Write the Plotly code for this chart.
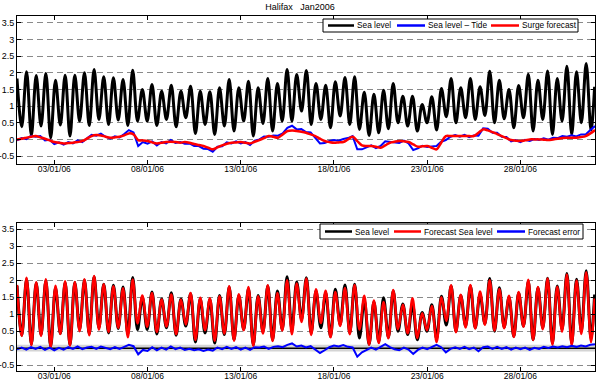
import numpy as np
import pandas as pd
import plotly.graph_objects as go

# ---------------- data ----------------
start = pd.Timestamp("2006-01-01 00:00")
end = pd.Timestamp("2006-02-01 00:00")

# Sea level (m): value at start, successive low waters, successive high waters, value at end
sea_first = 1.83
sea_lows = [0.38, 0.12, 0.40, 0.05, 0.43, 0.10, 0.55, 0.42, 0.60, 0.45,
            0.58, 0.42, 0.55, 0.55, 0.42, 0.60, 0.38, 0.65, 0.18, 0.45,
            0.15, 0.40, 0.25, 0.55, 0.10, 0.48, 0.25, 0.55, 0.55, 0.85,
            0.45, 0.60, 0.35, 0.70, 0.45, 0.30, 0.12, 0.20, 0.32, 0.50,
            0.40, 0.25, 0.50, 0.28, 0.68, 0.50, 0.65, 0.60, 0.72, 0.50,
            0.62, 0.35, 0.65, 0.25, 0.60, 0.15, 0.55, 0.15, 0.50, 0.28]
sea_highs = [2.03, 1.92, 1.98, 1.78, 1.93, 1.93, 2.00, 2.10, 1.88, 1.85,
             1.80, 2.08, 1.50, 1.65, 1.45, 1.63, 1.45, 1.60, 1.45, 1.43,
             1.55, 1.80, 1.55, 1.75, 1.55, 1.83, 1.68, 2.10, 1.95, 2.07,
             1.68, 1.63, 1.73, 1.86, 1.88, 1.42, 1.36, 1.48, 1.68, 1.30,
             1.30, 1.05, 1.28, 1.53, 1.83, 1.55, 1.83, 1.58, 2.05, 1.78,
             1.50, 1.62, 1.96, 1.78, 2.06, 1.83, 2.20, 2.03, 2.28]
sea_last = 1.58

# Surge forecast (m), every 6 hours from 01/01 00:00 to 01/02 00:00
surge = [0.00, 0.02, 0.05, 0.08, 0.10, 0.06, 0.02, -0.03,
         -0.08, -0.10, -0.12, -0.11, -0.10, -0.08, -0.05, 0.02,
         0.10, 0.13, 0.12, 0.08, 0.05, 0.06, 0.08, 0.12,
         0.18, 0.15, -0.02, -0.03, -0.05, -0.09, -0.12, -0.10,
         -0.08, -0.07, -0.08, -0.10, -0.08, -0.10, -0.14, -0.17,
         -0.20, -0.25, -0.30, -0.24, -0.18, -0.13, -0.10, -0.09,
         -0.08, -0.10, -0.12, -0.07, -0.02, 0.04, 0.10, 0.08,
         0.05, 0.15, 0.25, 0.27, 0.25, 0.23, 0.20, 0.15,
         0.10, 0.02, -0.05, -0.08, -0.10, -0.09, -0.08, 0.00,
         0.08, -0.05, -0.18, -0.20, -0.20, -0.22, -0.25, -0.18,
         -0.10, -0.07, -0.05, -0.06, -0.08, -0.15, -0.22, -0.21,
         -0.20, -0.25, -0.30, -0.10, 0.10, 0.10, 0.10, 0.10,
         0.10, 0.10, 0.10, 0.20, 0.30, 0.27, 0.22, 0.16,
         0.10, 0.04, -0.02, -0.04, -0.05, -0.03, 0.00, 0.00,
         0.00, -0.01, -0.02, 0.00, 0.02, 0.04, 0.05, 0.05,
         0.05, 0.07, 0.10, 0.18, 0.28]

# Forecast error (m) = (Sea level - Tide) - Surge forecast, every 6 hours
error = [-0.03, 0.02, -0.04, 0.03, -0.02, 0.04, -0.05, 0.02,
         -0.06, 0.01, -0.04, 0.03, -0.02, 0.05, -0.03, 0.02,
         0.04, -0.02, 0.05, 0.00, -0.03, 0.03, -0.02, 0.04,
         0.10, 0.06, -0.18, -0.05, -0.08, 0.03, -0.06, 0.02,
         -0.04, 0.05, -0.03, 0.02, -0.05, -0.02, -0.06, -0.03,
         -0.08, -0.04, -0.07, 0.02, -0.03, 0.04, -0.02, 0.03,
         -0.04, 0.02, -0.05, 0.03, 0.02, 0.05, -0.02, 0.04,
         0.06, 0.03, 0.10, 0.14, 0.05, 0.08, 0.02, 0.06,
         -0.05, -0.14, -0.06, 0.03, 0.08, 0.05, 0.09, 0.04,
         0.02, -0.25, -0.12, -0.05, 0.02, -0.04, 0.05, 0.12,
         0.03, -0.03, -0.06, 0.02, -0.04, -0.17, -0.05, 0.02,
         -0.03, 0.04, 0.10, 0.03, -0.12, -0.02, 0.03, -0.02,
         0.04, -0.03, 0.02, -0.09, 0.03, 0.05, -0.02, 0.04,
         -0.02, 0.03, -0.04, 0.02, -0.03, 0.02, -0.05, 0.01,
         -0.02, 0.04, 0.01, 0.05, 0.02, 0.06, 0.03, 0.07,
         0.04, 0.08, 0.05, 0.10, 0.12]

tick_dates = ["2006-01-03", "2006-01-08", "2006-01-13", "2006-01-18", "2006-01-23", "2006-01-28"]
tick_text = ["03/01/06", "08/01/06", "13/01/06", "18/01/06", "23/01/06", "28/01/06"]
y_vals = [-0.5, 0, 0.5, 1, 1.5, 2, 2.5, 3, 3.5]
y_text = ["-0.5", "0", "0.5", "1", "1.5", "2", "2.5", "3", "3.5"]

legend_top = ["Sea level", "Sea level \u2013 Tide", "Surge forecast"]
legend_bottom = ["Sea level", "Forecast Sea level", "Forecast error"]

# ---------------- derived series ----------------
half = pd.Timedelta(hours=6.21)
low_t = [start + pd.Timedelta(hours=6.09) + 2 * i * half for i in range(len(sea_lows))]
high_t = [start + pd.Timedelta(hours=12.30) + 2 * i * half for i in range(len(sea_highs))]
sea_t = [start]
sea_v = [sea_first]
for i in range(len(sea_lows)):
    sea_t.append(low_t[i]); sea_v.append(sea_lows[i])
    if i < len(sea_highs):
        sea_t.append(high_t[i]); sea_v.append(sea_highs[i])
sea_t.append(end - pd.Timedelta(hours=0.5)); sea_v.append(sea_last)
sea_v = np.array(sea_v)

t6 = pd.date_range(start, periods=len(surge), freq="6h")
surge = np.array(surge)
error = np.array(error)
residual = surge + error

# forecast sea level = sea level - forecast error (nearest 6-hour error sample)
hrs = np.array([(t - start) / pd.Timedelta(hours=1) for t in sea_t])
idx = np.clip(np.round(hrs / 6).astype(int), 0, len(error) - 1)
fcst_v = sea_v - error[idx]

# ---------------- figure ----------------
BLACK, BLUE, RED = "#000000", "#0000ff", "#ff0000"
W, H = 600, 387
ML, MR, MT, MB = 17, 5, 16, 16
fig = go.Figure()

fig.add_trace(go.Scatter(x=sea_t, y=sea_v, mode="lines", name=legend_top[0],
                         line=dict(color=BLACK, width=3, shape="spline", smoothing=1.0),
                         xaxis="x", yaxis="y"))
fig.add_trace(go.Scatter(x=t6, y=residual, mode="lines", name=legend_top[1],
                         line=dict(color=BLUE, width=2),
                         xaxis="x", yaxis="y"))
fig.add_trace(go.Scatter(x=t6, y=surge, mode="lines", name=legend_top[2],
                         line=dict(color=RED, width=2.5, shape="spline"),
                         xaxis="x", yaxis="y"))

fig.add_trace(go.Scatter(x=[start, end], y=[0, 0], mode="lines",
                         line=dict(color=BLACK, width=1.5), hoverinfo="skip",
                         xaxis="x2", yaxis="y2"))
fig.add_trace(go.Scatter(x=sea_t, y=sea_v, mode="lines", name=legend_bottom[0],
                         line=dict(color=BLACK, width=3, shape="spline", smoothing=1.0),
                         xaxis="x2", yaxis="y2"))
fig.add_trace(go.Scatter(x=sea_t, y=fcst_v, mode="lines", name=legend_bottom[1],
                         line=dict(color=RED, width=2.5, shape="spline", smoothing=1.0),
                         xaxis="x2", yaxis="y2"))
fig.add_trace(go.Scatter(x=t6, y=error, mode="lines", name=legend_bottom[2],
                         line=dict(color=BLUE, width=2),
                         xaxis="x2", yaxis="y2"))

FONT = "Liberation Sans, Arial, sans-serif"
xcommon = dict(range=[start, end], tickvals=tick_dates, ticktext=tick_text,
               showgrid=False, zeroline=False, showline=True, linecolor="black", linewidth=1,
               mirror="ticks", ticks="inside", ticklen=4, tickcolor="black",
               ticklabelstandoff=-3,
               tickfont=dict(size=8.5, color="black", family=FONT))
ycommon = dict(tickvals=y_vals, ticktext=y_text, showgrid=True, gridcolor="#8a8a8a",
               griddash="6px,4px", gridwidth=1, zeroline=False, showline=True,
               linecolor="black", linewidth=1, mirror="ticks", ticks="inside", ticklen=4,
               tickcolor="black", tickfont=dict(size=9, color="black", family=FONT))

# ---- hand-drawn legends (MATLAB style boxes) in pixel positions ----
pw, ph = W - ML - MR, H - MT - MB
def px(xp):
    return (xp - ML) / pw
def py(yp):
    return (H - MB - yp) / ph

shapes = [dict(type="rect", xref="x2", yref="y2", x0=start, x1=end, y0=-0.1, y1=0.1,
               fillcolor="#d4d4d4", line=dict(width=0), layer="below")]
annotations = []

def add_legend(box, yc, items):
    x0, x1, y0, y1 = box
    shapes.append(dict(type="rect", xref="paper", yref="paper", x0=px(x0), x1=px(x1),
                       y0=py(y1), y1=py(y0), fillcolor="white",
                       line=dict(color="black", width=1), layer="above"))
    for (lx0, lx1, tx, label, color) in items:
        shapes.append(dict(type="line", xref="paper", yref="paper", x0=px(lx0), x1=px(lx1),
                           y0=py(yc), y1=py(yc), line=dict(color=color, width=2.5), layer="above"))
        annotations.append(dict(xref="paper", yref="paper", x=px(tx), y=py(yc), text=label,
                                showarrow=False, xanchor="left", yanchor="middle",
                                borderpad=0, font=dict(size=8.3, color="black", family=FONT)))

add_legend((323, 578, 19, 32), 25.5,
           [(328, 354, 356, legend_top[0], BLACK),
            (397, 425, 427, legend_top[1], BLUE),
            (491, 519, 521, legend_top[2], RED)])
add_legend((320, 583, 224, 239), 231.5,
           [(325, 352, 354, legend_bottom[0], BLACK),
            (394, 421, 423, legend_bottom[1], RED),
            (497, 525, 527, legend_bottom[2], BLUE)])

fig.update_layout(
    width=W, height=H, margin=dict(l=ML, r=MR, t=MT, b=MB, autoexpand=False),
    paper_bgcolor="white", plot_bgcolor="white", showlegend=False,
    font=dict(family=FONT, size=9, color="black"),
    title=dict(text="Halifax   Jan2006", x=0.5, xanchor="center", y=1 - 7 / H, yanchor="middle",
               font=dict(size=9, color="black", family=FONT)),
    xaxis=dict(domain=[0, 1], anchor="y", **xcommon),
    yaxis=dict(domain=[py(164), 1], anchor="x", range=[-0.74, 3.71], **ycommon),
    xaxis2=dict(domain=[0, 1], anchor="y2", **xcommon),
    yaxis2=dict(domain=[0, py(222.7)], anchor="x2", range=[-0.67, 3.69], **ycommon),
    shapes=shapes,
    annotations=annotations,
)

fig.write_html("out.html", config={"displayModeBar": False},
               post_script="document.body.style.margin='0';document.body.style.padding='0';")
